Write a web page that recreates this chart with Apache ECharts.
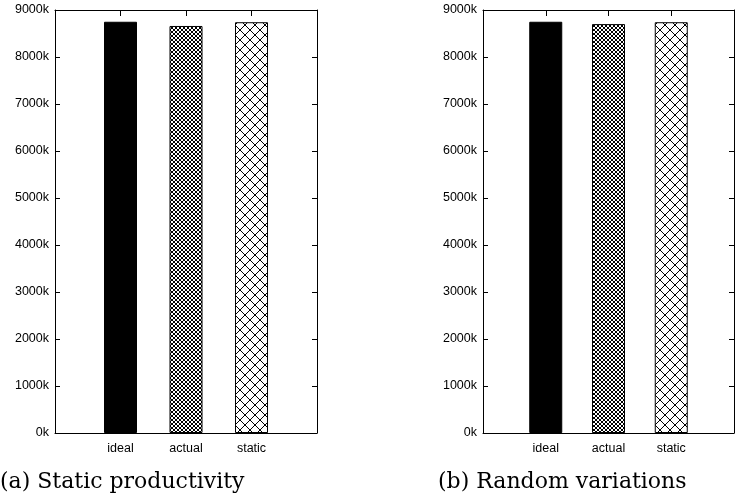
<!DOCTYPE html>
<html><head><meta charset="utf-8">
<script src="https://cdn.jsdelivr.net/npm/echarts@6/dist/echarts.min.js"></script>
<style>html,body{margin:0;padding:0;background:#fff}#c{width:737px;height:503px}</style>
</head><body><div id="c"></div>
<script>
var categories = ['', 'ideal', 'actual', 'static', ''];
var valuesA = [null, 8750, 8660, 8740, null];
var valuesB = [null, 8750, 8700, 8740, null];
var yTicks = [0, 1000, 2000, 3000, 4000, 5000, 6000, 7000, 8000, 9000];
var captionA = '(a) Static productivity';
var captionB = '(b) Random variations';

function hatch(size) {
  var c = document.createElement('canvas');
  c.width = size; c.height = size;
  var g = c.getContext('2d');
  g.fillStyle = '#fff'; g.fillRect(0, 0, size, size);
  g.strokeStyle = '#000'; g.lineWidth = 1;
  g.beginPath();
  for (var k = -1; k <= 1; k++) {
    g.moveTo(k * size, 0); g.lineTo(k * size + size, size);
    g.moveTo(k * size, size); g.lineTo(k * size + size, 0);
  }
  g.stroke();
  return c;
}
var fine = {image: hatch(4), repeat: 'repeat'};
var coarse = {image: hatch(10), repeat: 'repeat'};
var fills = [null, '#000', fine, coarse, null];

function mkData(vals) {
  return vals.map(function (v, i) {
    return {value: v, itemStyle: {color: fills[i] || '#000', borderColor: '#000', borderWidth: 1}};
  });
}

var font = 'Liberation Sans, Arial, sans-serif';
var grids = [
  {left: 55, top: 10, width: 262, height: 423},
  {left: 483, top: 10, width: 262, height: 423}
];
var xAxes = [], yAxes = [], series = [];
[0, 1].forEach(function (gi) {
  xAxes.push({type: 'category', gridIndex: gi, data: categories, boundaryGap: false,
    axisLine: {show: true, onZero: false, lineStyle: {color: '#000', width: 1}}, axisTick: {show: false},
    axisLabel: {color: '#000', fontFamily: font, fontSize: 12.5, margin: 9, interval: 0},
    splitLine: {show: false}});
  xAxes.push({type: 'value', gridIndex: gi, min: 0, max: categories.length - 1, interval: 1, position: 'top',
    axisLine: {show: true, onZero: false, lineStyle: {color: '#000', width: 1}},
    axisTick: {show: true, inside: true, length: 6, lineStyle: {color: '#000', width: 1}},
    axisLabel: {show: false}, splitLine: {show: false}});
  yAxes.push({type: 'value', gridIndex: gi, min: 0, max: 9000, interval: 1000,
    axisLine: {show: true, onZero: false, lineStyle: {color: '#000', width: 1}},
    axisTick: {show: true, inside: true, length: 5, lineStyle: {color: '#000'}},
    axisLabel: {color: '#000', fontFamily: font, fontSize: 12.5, margin: 6,
      formatter: function (v) { return v + 'k'; }},
    splitLine: {show: false}});
  yAxes.push({type: 'value', gridIndex: gi, min: 0, max: 9000, interval: 1000, position: 'right',
    axisLine: {show: true, onZero: false, lineStyle: {color: '#000', width: 1}},
    axisTick: {show: true, inside: true, length: 5, lineStyle: {color: '#000'}},
    axisLabel: {show: false}, splitLine: {show: false}});
  series.push({type: 'bar', xAxisIndex: gi * 2, yAxisIndex: gi * 2, barWidth: 33,
    data: mkData(gi === 0 ? valuesA : valuesB), animation: false});
});

var chart = echarts.init(document.getElementById('c'), null, {renderer: 'canvas'});
chart.setOption({
  animation: false,
  grid: grids,
  xAxis: xAxes,
  yAxis: yAxes,
  series: series,
  graphic: [
    {type: 'text', left: 0, top: 471, style: {text: captionA, font: '22px "DejaVu Serif", serif', fill: '#000'}},
    {type: 'text', left: 438, top: 471, style: {text: captionB, font: '22px "DejaVu Serif", serif', fill: '#000'}}
  ]
});
</script></body></html>
